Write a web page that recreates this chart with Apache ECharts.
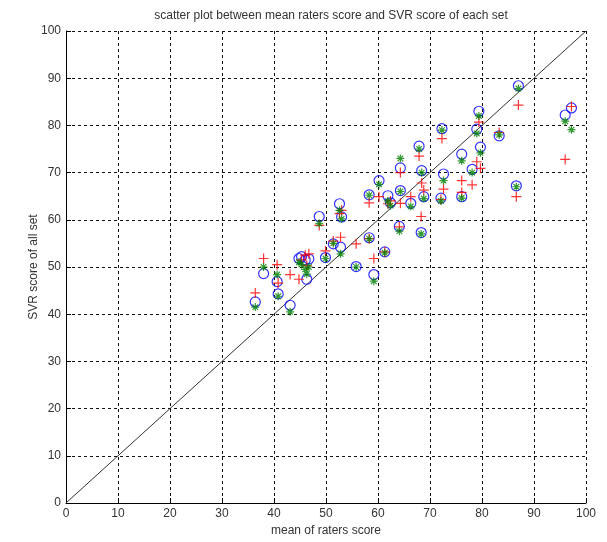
<!DOCTYPE html>
<html>
<head>
<meta charset="utf-8">
<script src="https://cdn.jsdelivr.net/npm/echarts@6/dist/echarts.min.js"></script>
<style>
  html, body { margin: 0; padding: 0; background: #fff; }
  #chart { width: 607px; height: 542px; }
</style>
</head>
<body>
<div id="chart"></div>
<script>
// mean raters score of each set (x)
var meanScore = [36.4, 38.0, 40.6, 40.8, 43.1, 44.8, 45.3, 46.0, 46.3, 46.7,
    48.7, 49.9, 51.4, 52.6, 53.0, 52.8, 55.8, 58.3, 58.3, 59.2,
    60.2, 61.3, 61.9, 62.4, 64.3, 64.1, 64.3, 66.3, 67.9, 68.4,
    68.3, 68.8, 72.3, 72.6, 72.1, 76.1, 76.1, 78.1, 79.4, 79.0,
    79.7, 83.3, 87.0, 86.6, 96.0, 97.2];
// SVR scores (blue circles)
var svrBlue = [42.6, 48.6, 46.9, 44.3, 41.9, 51.8, 52.2, 51.5, 47.4, 51.7,
    60.7, 52.0, 54.9, 63.4, 60.6, 54.2, 50.1, 56.2, 65.3, 48.4,
    68.3, 53.2, 65.1, 63.6, 66.2, 58.6, 71.0, 63.5, 75.6, 70.4,
    57.3, 64.9, 79.3, 69.7, 64.6, 73.9, 64.9, 70.7, 83.0, 79.2,
    75.4, 77.8, 88.4, 67.2, 82.2, 83.7];
// SVR scores (red plus)
var svrRed = [44.5, 51.8, 50.5, 46.6, 48.4, 47.4, 51.5, 52.5, 50.3, 52.8,
    58.8, 53.4, 55.5, 61.3, 62.0, 56.3, 54.9, 56.0, 63.6, 51.8,
    64.9, 53.2, 63.4, 64.0, 63.5, 58.5, 70.0, 64.9, 73.5, 67.8,
    60.7, 66.3, 77.2, 66.5, 64.3, 68.3, 65.8, 67.4, 80.7, 72.3,
    70.9, 78.5, 84.3, 64.9, 72.8, 84.0];
// SVR scores (green star)
var svrGreen = [41.5, 50.0, 48.4, 43.8, 40.5, 51.0, 50.5, 49.5, 48.5, 50.0,
    59.2, 51.8, 55.0, 62.0, 60.2, 52.8, 50.0, 56.0, 65.2, 47.0,
    67.5, 53.0, 64.0, 63.0, 66.0, 57.6, 73.0, 62.8, 75.0, 70.0,
    57.0, 64.5, 79.0, 68.3, 64.0, 72.5, 64.6, 70.0, 82.0, 78.3,
    74.2, 78.0, 87.8, 67.0, 80.9, 79.1];
// reference line y = x
var diagLine = [0, 100];

function pairs(xs, ys) {
    return xs.map(function (x, i) { return [x, ys[i]]; });
}

var plusPath = 'path://M5,0L5,10M0,5L10,5';
var starPath = 'path://M5,0L5,10M0,5L10,5M1.5,1.5L8.5,8.5M8.5,1.5L1.5,8.5';
var font = '"Liberation Sans", Arial, sans-serif';

var axisCommon = {
    type: 'value',
    min: 0,
    max: 100,
    interval: 10,
    nameMoveOverlap: false,
    axisLine: { show: true, onZero: false, lineStyle: { color: '#000', width: 1 } },
    axisTick: { show: true, inside: true, length: 5, lineStyle: { color: '#000' } },
    axisLabel: { color: '#333', fontFamily: font, fontSize: 12, margin: 5 },
    splitLine: { show: true, lineStyle: { color: '#111', type: [3, 3], width: 1 } },
    nameTextStyle: { color: '#333', fontFamily: font, fontSize: 12 }
};

var chart = echarts.init(document.getElementById('chart'), null, { renderer: 'canvas' });
chart.setOption({
    backgroundColor: '#fff',
    animation: false,
    title: {
        text: 'scatter plot between mean raters score and SVR score of each set',
        left: 326, top: 5, textAlign: 'center',
        textStyle: { fontFamily: font, fontSize: 12, fontWeight: 'normal', color: '#333' }
    },
    grid: { left: 66, right: 21, top: 31, bottom: 39 },
    xAxis: Object.assign({}, axisCommon, {
        name: 'mean of raters score', nameLocation: 'middle', nameGap: 22
    }),
    yAxis: Object.assign({}, axisCommon, {
        name: 'SVR score of all set', nameLocation: 'middle', nameGap: 26
    }),
    series: [
        {
            type: 'line',
            data: pairs(diagLine, diagLine),
            symbol: 'none',
            lineStyle: { color: '#333', width: 1 },
            z: 1
        },
        {
            type: 'scatter',
            data: pairs(meanScore, svrBlue),
            symbol: 'circle',
            symbolSize: 10,
            itemStyle: { color: 'none', borderColor: '#0000ff', borderWidth: 1.2 },
            z: 2
        },
        {
            type: 'scatter',
            data: pairs(meanScore, svrRed),
            symbol: plusPath,
            symbolSize: 10,
            itemStyle: { color: 'none', borderColor: '#ff0000', borderWidth: 1.2 },
            z: 3
        },
        {
            type: 'scatter',
            data: pairs(meanScore, svrGreen),
            symbol: starPath,
            symbolSize: 8,
            itemStyle: { color: 'none', borderColor: '#008000', borderWidth: 1.2 },
            z: 4
        }
    ]
});
</script>
</body>
</html>
